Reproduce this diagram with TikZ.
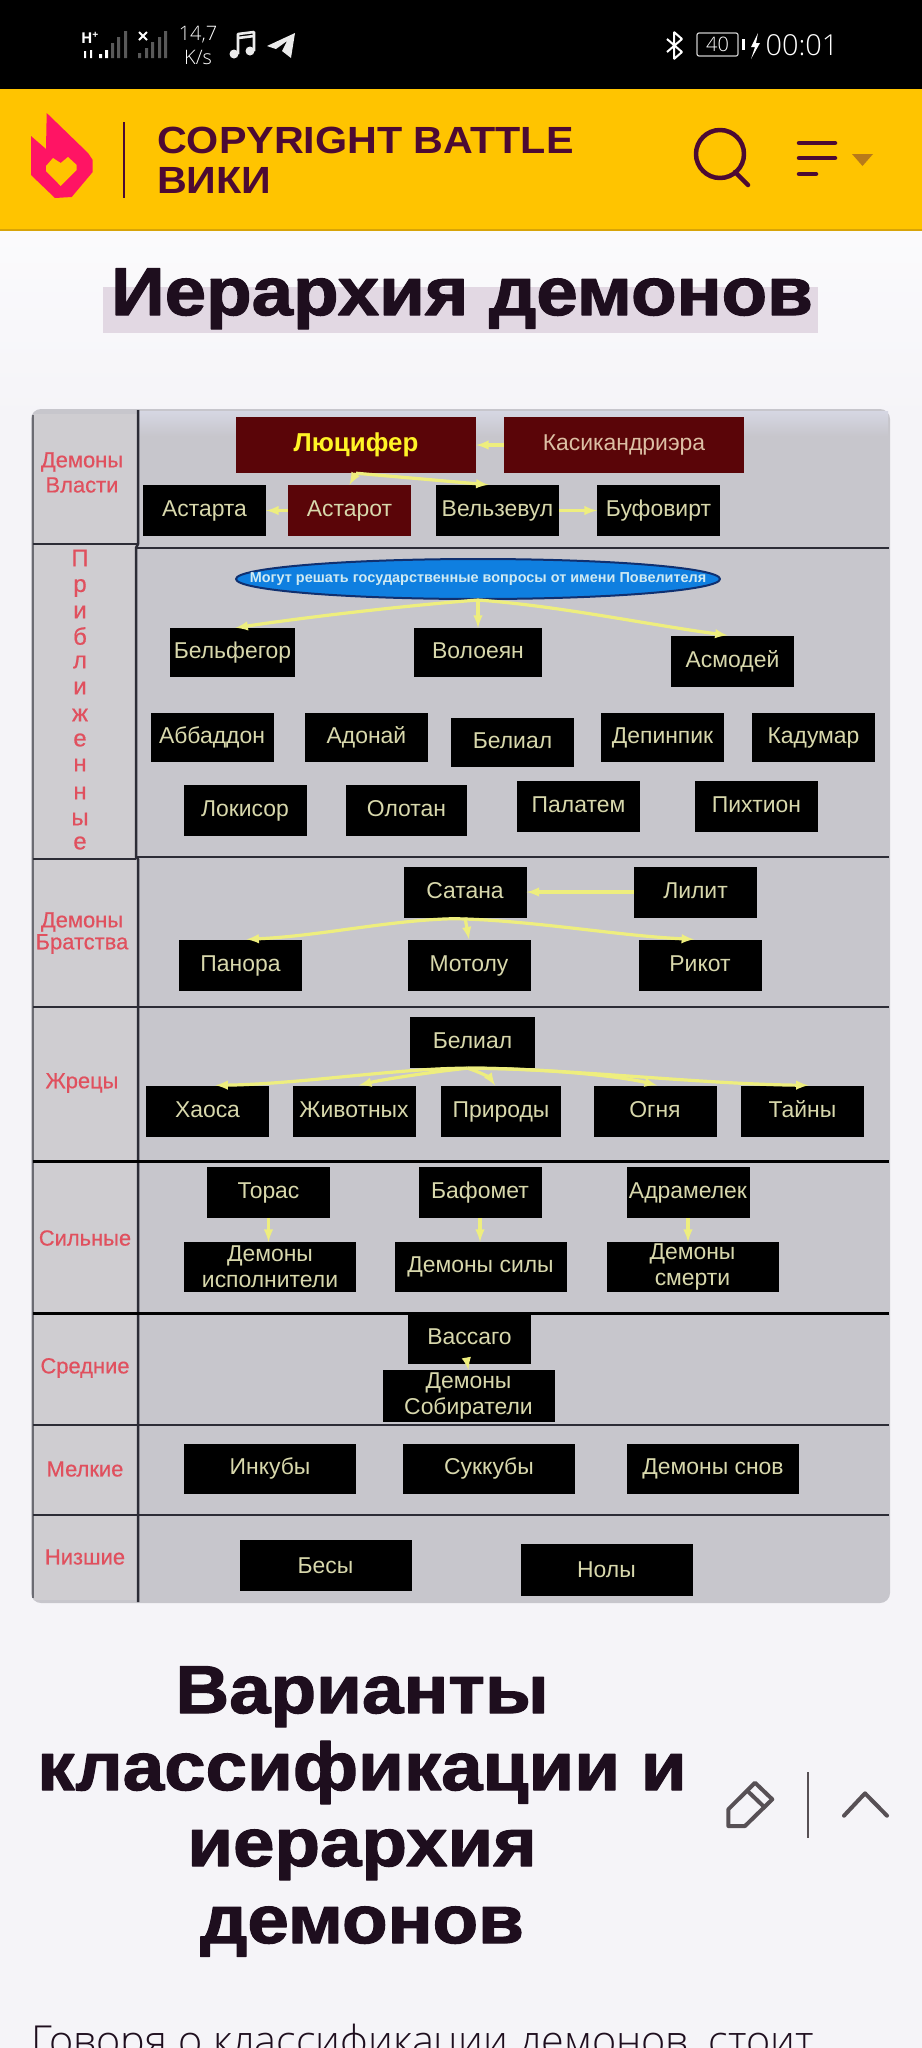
\documentclass[tikz,border=0pt]{standalone}
\usepackage{fontspec}
\setmainfont{Liberation Sans}
\newfontfamily\headfont[FakeStretch=1.1,BoldFeatures={FakeBold=1.8}]{Liberation Sans}
\newfontfamily\sitefont[FakeStretch=1.09]{Liberation Sans}
\newfontfamily\sidefont[FakeBold=0.5]{Liberation Sans}
\newfontfamily\statusfont{Open Sans}
\newfontfamily\bodyfont{Open Sans Light}
\usetikzlibrary{shapes.geometric}

\definecolor{barblack}{HTML}{000000}
\definecolor{headeryellow}{HTML}{FFC400}
\definecolor{headerline}{HTML}{D8A408}
\definecolor{headerplum}{HTML}{4C0A33}
\definecolor{flamepink}{HTML}{FF1464}
\definecolor{caretbrown}{HTML}{B87A1A}
\definecolor{headingink}{HTML}{1E0E1E}
\definecolor{highlight}{HTML}{E2D8E3}
\definecolor{pagegrey}{HTML}{F5F4F8}
\definecolor{panelgrey}{HTML}{C7C6CC}
\definecolor{panelglow}{HTML}{D6D7E3}
\definecolor{sidegrey}{HTML}{CFCDD1}
\definecolor{ruledark}{HTML}{2C2C36}
\definecolor{boxink}{HTML}{D8D8AC}
\definecolor{edgeyellow}{HTML}{EEEE7E}
\definecolor{rulered}{HTML}{5A0508}
\definecolor{labelred}{HTML}{E0505E}
\definecolor{iconink}{HTML}{575055}
\definecolor{councilblue}{HTML}{0F7FE0}
\definecolor{councilrim}{HTML}{103070}
\definecolor{councilink}{HTML}{CFEAF2}
\definecolor{kasikink}{HTML}{DCBFA4}

\tikzset{
  demonbox/.style={fill=black,text=boxink,inner sep=0pt,align=center,font=\fontsize{23}{26}\selectfont},
  smallbox/.style={demonbox,minimum width=123bp,minimum height=51bp,text height=16bp,text depth=4bp},
  widebox/.style={demonbox,minimum width=172bp,minimum height=50bp},
  redbox/.style={fill=rulered,text=boxink,inner sep=0pt,minimum height=56bp,minimum width=240bp},
  sidelabel/.style={text=labelred,inner sep=0pt,font=\sidefont\fontsize{22}{24}\selectfont},
  edgeline/.style={->,draw=edgeyellow,line width=3.2bp},
  panelrule/.style={draw=ruledark,line width=2.5bp},
  heading/.style={text=headingink,inner sep=0pt,anchor=base,font=\headfont\bfseries\fontsize{68}{68}\selectfont},
  statustext/.style={text=white,inner sep=0pt,font=\statusfont},
}

\begin{document}
\begin{tikzpicture}[>=latex,line join=bevel,x=1bp,y=-1bp]
  \useasboundingbox (0,0) rectangle (922,2048);
  \clip (0,0) rectangle (922,2048);
%%
  % Page and top bars
  \fill [pagegrey] (0,0) rectangle (922,2048);
  \shade [top color=white!60!pagegrey,bottom color=pagegrey] (0,231) rectangle (922,420);
  \fill [barblack] (0,0) rectangle (922,89);
  \fill [headeryellow] (0,89) rectangle (922,229);
  \fill [headerline] (0,229) rectangle (922,231);
%%
  % Status bar
\begin{scope}
  \node [statustext,font=\statusfont\bfseries\fontsize{15}{15}\selectfont] (hplus) at (90,38) {H\textsuperscript{+}};
  \fill [white] (84,51) rectangle (86,58) (90,50) rectangle (92,58) (99,54) rectangle (102,58) (105,50) rectangle (108,58);
  \fill [white!35!black] (111,43) rectangle (114,58) (117,37) rectangle (120,58) (124,31) rectangle (127,58);
  \draw [white,line width=2bp] (139,32) -- (147,40) (147,32) -- (139,40);
  \fill [white!35!black] (138,53) rectangle (141,58) (145,48) rectangle (148,58) (151,42) rectangle (154,58) (158,37) rectangle (161,58) (164,31) rectangle (167,58);
  \node [statustext,font=\bodyfont\fontsize{20}{20}\selectfont] (speed) at (198,35) {14,7};
  \node [statustext,font=\bodyfont\fontsize{20}{20}\selectfont] (speedunit) at (198,57) {K/s};
  % music note
  \fill [white!92!black] (234,54) circle (4.5bp) (250,51) circle (4.5bp);
  \draw [white!92!black,line width=2.6bp] (238,54) -- (238,34) -- (254,32) -- (254,51);
  \draw [white!92!black,line width=2.6bp] (238,38) -- (254,36);
  % paper plane
  \fill [white!92!black] (267,46) -- (295,33) -- (291,58) -- (282,51) -- (287,41) -- (276,49) -- cycle;
  % bluetooth
  \draw [white,line width=2bp] (667,39) -- (682,52) -- (674,59) -- (674,32) -- (682,39) -- (667,52);
  % battery
  \draw [white!80!black,line width=1.2bp,rounded corners=2bp] (697,33) rectangle (738,56);
  \node [statustext,font=\bodyfont\fontsize{20}{20}\selectfont] (batterylevel) at (717.5,44.5) {40};
  \fill [white] (742,39) rectangle (745,50);
  \fill [white] (758,33) -- (751,47) -- (755,47) -- (751,59) -- (760,43) -- (756,43) -- cycle;
  \node [statustext,font=\bodyfont\fontsize{29}{29}\selectfont] (clock) at (802,45) {00:01};
\end{scope}
%%
  % Site header
\begin{scope}
  \fill [flamepink] (46.7,113) -- (88,153) -- (92.7,160) -- (92.7,172) -- (71.7,197) -- (55,198) -- (31,175) -- (31,136) -- (46,149) -- cycle;
  \fill [headeryellow] (46,166) -- (53,158) -- (60.7,163) -- (68,157) -- (76.7,165) -- (76.7,170) -- (60.7,186) -- (46,171) -- cycle;
  \draw [headerplum,line width=2bp] (124,122) -- (124,198);
  \node [text=headerplum,inner sep=0pt,anchor=base west,font=\sitefont\bfseries\fontsize{38}{38}\selectfont] (sitename) at (157,153) {COPYRIGHT BATTLE};
  \node [text=headerplum,inner sep=0pt,anchor=base west,font=\sitefont\bfseries\fontsize{38}{38}\selectfont] (sitewiki) at (157,193) {ВИКИ};
  \draw [headerplum,line width=4.5bp] (720,154) circle (24bp);
  \draw [headerplum,line width=4.5bp,line cap=round] (735,172) -- (748,185);
  \draw [headerplum,line width=4.5bp,line cap=round] (799,143) -- (835,143) (799,158) -- (835,158) (799,174) -- (816,174);
  \fill [caretbrown] (852,154) -- (873,154) -- (862.5,166) -- cycle;
\end{scope}
%%
  % Page title
  \fill [highlight] (103,287) rectangle (818,333);
  \node [heading] (pagetitle) at (462,315) {Иерархия демонов};
%%
  % Chart panel
  \fill [panelgrey,rounded corners=10bp] (31,409) rectangle (890,1603);
  \shade [top color=panelglow,bottom color=panelgrey] (139,411) rectangle (888,436);
  \fill [sidegrey] (34,414) rectangle (137,1600);
  \draw [ruledark!70,line width=1.2bp] (33,415) -- (33,1598);
  \draw [panelrule] (138,410) -- (138,544) -- (136,548) -- (136,857) -- (138,859) -- (138,1602);
  \draw [panelrule] (33,544) -- (138,544) (136,548) -- (889,548);
  \draw [panelrule] (33,859) -- (136,859) (136,857) -- (889,857);
  \draw [panelrule] (33,1007) -- (889,1007);
  \draw [panelrule,draw=black,line width=3bp] (33,1161) -- (889,1161);
  \draw [panelrule,draw=black,line width=3bp] (33,1313) -- (889,1313);
  \draw [panelrule] (33,1425) -- (889,1425);
  \draw [panelrule] (33,1515) -- (889,1515);
%%
  % Side labels
  \node [sidelabel] (powertop) at (82,462) {Демоны};
  \node [sidelabel] (powerbot) at (82,485) {Власти};
  \foreach \ch/\y [count=\i] in {П/558,р/588,и/612,б/636,л/662,и/688,ж/715,е/740,н/765,н/793,ы/819,е/843}
    \node [sidelabel,font=\sidefont\fontsize{24}{24}\selectfont] (close\i) at (80,\y) {\ch};
  \node [sidelabel] (brotherstop) at (82,922) {Демоны};
  \node [sidelabel] (brothersbot) at (82,944) {Братства};
  \node [sidelabel] (priests) at (82,1083) {Жрецы};
  \node [sidelabel] (strong) at (85,1238) {Сильные};
  \node [sidelabel] (middle) at (85,1368) {Средние};
  \node [sidelabel] (minor) at (85,1469) {Мелкие};
  \node [sidelabel] (lowest) at (85,1557) {Низшие};
%%
  % Node: rulers
  \node [redbox,text=yellow!85!white,font=\bfseries\fontsize{26}{30}\selectfont] (lucifer) at (356,445) {Люцифер};
  \node [redbox,text=kasikink,font=\fontsize{23}{26}\selectfont] (kasik) at (624,445) {Касикандриэра};
  \node [smallbox] (astarta) at (204.5,510.5) {Астарта};
  \node [smallbox,fill=rulered] (astarot) at (349.5,510.5) {Астарот};
  \node [smallbox] (belzebul) at (497.5,510.5) {Вельзевул};
  \node [smallbox] (bufovirt) at (658.5,510.5) {Буфовирт};
  % Node: closest
  \node [ellipse,draw=councilrim,line width=2bp,fill=councilblue,inner sep=0pt,minimum width=484bp,minimum height=40bp,text=councilink,font=\bfseries\fontsize{14.5}{16}\selectfont] (council) at (478,579) {\makebox[0pt]{Могут решать государственные вопросы от имени Повелителя}};
  \node [smallbox,minimum width=125bp,minimum height=49bp] (belfegor) at (232.5,652.5) {Бельфегор};
  \node [smallbox,minimum width=128bp,minimum height=49bp] (voloeyan) at (478,652.5) {Волоеян};
  \node [smallbox] (asmodey) at (732.5,661) {Асмодей};
  \node [smallbox,minimum height=49bp] (abbadon) at (212,737.5) {Аббаддон};
  \node [smallbox,minimum height=49bp] (adonai) at (366.5,737.5) {Адонай};
  \node [smallbox,minimum height=49bp] (belial) at (512.5,742.5) {Белиал};
  \node [smallbox,minimum height=49bp] (depinpik) at (662.5,737.5) {Депинпик};
  \node [smallbox,minimum height=49bp] (kadumar) at (813.5,737.5) {Кадумар};
  \node [smallbox] (lokisor) at (245,810.5) {Локисор};
  \node [smallbox,minimum width=121bp] (olotan) at (406.5,810.5) {Олотан};
  \node [smallbox] (palatem) at (578.5,806.5) {Палатем};
  \node [smallbox] (pikhtion) at (756.5,806.5) {Пихтион};
  % Node: brothers
  \node [smallbox] (satana) at (465,892) {Сатана};
  \node [smallbox] (lilit) at (695.5,892) {Лилит};
  \node [smallbox] (panora) at (240.5,965) {Панора};
  \node [smallbox] (motolu) at (469,965) {Мотолу};
  \node [smallbox] (rikot) at (700,965) {Рикот};
  % Node: priests
  \node [smallbox,minimum width=125bp] (belialpriest) at (472.5,1042.5) {Белиал};
  \node [smallbox] (khaos) at (207.5,1111) {Хаоса};
  \node [smallbox] (animals) at (354,1111) {Животных};
  \node [smallbox,minimum width=120bp] (nature) at (501,1111) {Природы};
  \node [smallbox] (fire) at (655,1111) {Огня};
  \node [smallbox] (secrets) at (802.5,1111) {Тайны};
  % Node: strong
  \node [smallbox] (toras) at (268.5,1192.5) {Торас};
  \node [smallbox] (bafomet) at (480,1192.5) {Бафомет};
  \node [smallbox] (adramelek) at (688,1192.5) {Адрамелек};
  \node [widebox] (executors) at (270,1267) {Демоны\\исполнители};
  \node [widebox] (forces) at (480.5,1267) {Демоны силы};
  \node [widebox] (death) at (692.5,1267) {Демоны\\смерти};
  % Node: middle
  \node [smallbox] (vassago) at (469.5,1338.5) {Вассаго};
  \node [widebox,minimum height=52bp] (gatherers) at (468.5,1396) {Демоны\\Собиратели};
  % Node: minor
  \node [widebox] (incubi) at (270,1468.5) {Инкубы};
  \node [widebox] (succubi) at (489,1468.5) {Суккубы};
  \node [widebox] (dreams) at (713,1468.5) {Демоны снов};
  % Node: lowest
  \node [widebox,minimum height=51bp] (imps) at (325.5,1565.5) {Бесы};
  \node [widebox,minimum height=52bp] (noly) at (606.5,1570) {Нолы};
%%
  % Edge: kasik -> lucifer
  \draw [edgeline] (kasik.west) -- (lucifer.east);
  % Edge: lucifer -> astarot
  \draw [edgeline] (lucifer.south) -- (astarot.north);
  % Edge: lucifer -> belzebul
  \draw [edgeline] (lucifer.south) -- ([xshift=-9bp]belzebul.north);
  % Edge: astarot -> astarta
  \draw [edgeline] (astarot.west) -- (astarta.east);
  % Edge: belzebul -> bufovirt
  \draw [edgeline] (belzebul.east) -- (bufovirt.west);
  % Edge: council -> belfegor
  \draw [edgeline] (council.south) .. controls (400,606) and (300,618) .. ([xshift=3bp]belfegor.north);
  % Edge: council -> voloeyan
  \draw [edgeline] (council.south) -- (voloeyan.north);
  % Edge: council -> asmodey
  \draw [edgeline] (council.south) .. controls (560,606) and (650,625) .. ([xshift=-5bp]asmodey.north);
  % Edge: lilit -> satana
  \draw [edgeline] (lilit.west) -- (satana.east);
  % Edge: satana -> panora
  \draw [edgeline] ([yshift=-1bp,xshift=-11bp]satana.south) .. controls (390,920) and (320,936) .. ([xshift=6bp]panora.north);
  % Edge: satana -> motolu
  \draw [edgeline] (satana.south) -- (motolu.north);
  % Edge: satana -> rikot
  \draw [edgeline] ([yshift=-1bp,xshift=-11bp]satana.south) .. controls (530,920) and (620,936) .. ([xshift=-6bp]rikot.north);
  % Edge: belialpriest -> khaos
  \draw [edgeline] ([xshift=-5bp]belialpriest.south) .. controls (400,1068) and (300,1084) .. ([xshift=8bp]khaos.north);
  % Edge: belialpriest -> animals
  \draw [edgeline] ([xshift=-5bp]belialpriest.south) .. controls (430,1072) and (380,1080) .. ([xshift=5bp]animals.north);
  % Edge: belialpriest -> nature
  \draw [edgeline] ([xshift=-5bp]belialpriest.south) .. controls (480,1072) and (490,1078) .. ([xshift=-6bp]nature.north);
  % Edge: belialpriest -> fire
  \draw [edgeline] ([xshift=-5bp]belialpriest.south) .. controls (540,1068) and (620,1076) .. ([xshift=2bp]fire.north);
  % Edge: belialpriest -> secrets
  \draw [edgeline] ([xshift=-5bp]belialpriest.south) .. controls (560,1068) and (700,1084) .. ([xshift=6bp]secrets.north);
  % Edge: toras -> executors
  \draw [edgeline] (toras.south) -- (toras.south |- executors.north);
  % Edge: bafomet -> forces
  \draw [edgeline] (bafomet.south) -- (bafomet.south |- forces.north);
  % Edge: adramelek -> death
  \draw [edgeline] (adramelek.south) -- (adramelek.south |- death.north);
  % Edge: vassago -> gatherers
  \draw [edgeline] ([xshift=-2bp]vassago.south) -- (gatherers.north);
%%
  % Section heading
  \node [heading] (sectiona) at (362,1713) {Варианты};
  \node [heading] (sectionb) at (362,1790) {классификации и};
  \node [heading] (sectionc) at (362,1866) {иерархия};
  \node [heading] (sectiond) at (362,1943) {демонов};
  % pencil, divider, chevron
  \draw [iconink,line width=4bp,line join=round] (728.3,1809.3) -- (755,1782.7) -- (772.3,1799.3) -- (745,1826) -- (728.3,1826) -- cycle;
  \draw [iconink,line width=4bp] (748.3,1791.7) -- (765,1807.7);
  \draw [iconink,line width=2.5bp] (808,1772) -- (808,1838);
  \draw [iconink,line width=4bp,line cap=round,line join=round] (844,1815.7) -- (865,1793.3) -- (887,1815.7);
  % Body text
  \node [text=headingink,inner sep=0pt,anchor=base west,font=\bodyfont\fontsize{41.5}{42}\selectfont] (bodytext) at (31,2055) {Говоря о классификации демонов, стоит};
%
\end{tikzpicture}
\end{document}
